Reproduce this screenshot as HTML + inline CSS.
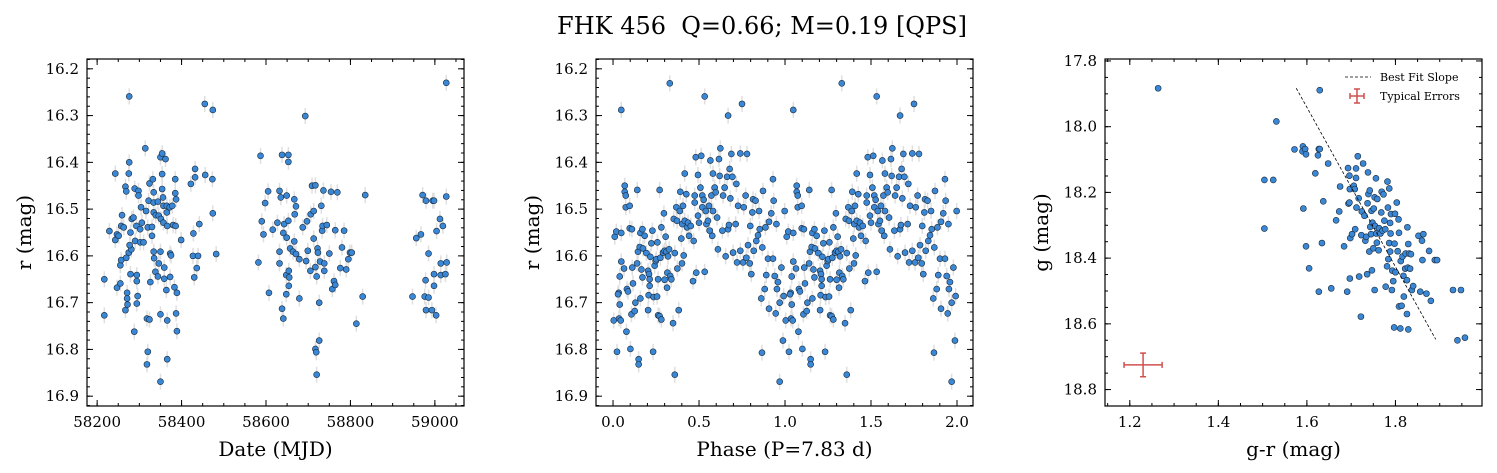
<!DOCTYPE html>
<html><head><meta charset="utf-8">
<style>
html,body{margin:0;padding:0;background:#fff;}
svg{display:block;font-family:"DejaVu Serif","Liberation Serif",serif;}
</style></head>
<body>
<svg id="fig" width="1497" height="473" viewBox="0 0 1497 473" xmlns="http://www.w3.org/2000/svg">
<text x="762" y="34" text-anchor="middle" font-size="24" fill="#000" xml:space="preserve" style="white-space:pre">FHK 456  Q=0.66; M=0.19 [QPS]</text>
</svg>
<script>
// Panel 1: light curve
const dates = [58217,58217,58229,58243,58243,58247,58251,58257,58259,58263,58255,58257,58247,58255,58269,58275,58276,58276,58275,58267,58269,58279,58281,58277,58282,58286,58279,58271,58271,58272,58267,58288,58289,58293,58290,58294,58294,58296,58294,58298,58298,58302,58304,58306,58302,58310,58314,58316,58318,58320,58318,58324,58320,58322,58324,58326,58330,58330,58332,58334,58334,58334,58334,58335,58338,58339,58344,58346,58344,58346,58350,58354,58354,58350,58350,58350,58351,58354,58356,58357,58357,58359,58359,58362,58364,58365,58365,58366,58366,58366,58372,58373,58373,58375,58378,58380,58383,58385,58385,58386,58387,58387,58389,58389,58399,58422,58427,58428,58430,58432,58432,58436,58439,58442,58455,58456,58473,58474,58474,58482,58582,58587,58590,58594,58598,58605,58607,58616,58627,58632,58632,58632,58635,58638,58638,58641,58641,58643,58648,58649,58649,58648,58653,58653,58653,58654,58654,58655,58657,58664,58667,58667,58668,58671,58671,58679,58679,58687,58693,58695,58697,58699,58705,58706,58709,58713,58713,58717,58717,58717,58719,58720,58720,58722,58723,58726,58726,58728,58731,58733,58734,58738,58738,58736,58744,58750,58754,58757,58761,58764,58764,58769,58776,58780,58785,58790,58795,58799,58803,58814,58829,58835,58947,58956,58967,58971,58978,58976,58979,58979,58985,58985,58993,58995,58998,58998,58998,59003,59004,59012,59014,59014,59019,59025,59027,59027,59028];
const mags1 = [16.65,16.727,16.547,16.424,16.566,16.554,16.557,16.536,16.513,16.539,16.62,16.609,16.668,16.659,16.604,16.593,16.259,16.4,16.424,16.452,16.462,16.55,16.586,16.577,16.521,16.518,16.639,16.679,16.691,16.704,16.716,16.762,16.456,16.536,16.568,16.641,16.654,16.686,16.702,16.461,16.471,16.543,16.496,16.529,16.571,16.571,16.37,16.504,16.734,16.805,16.832,16.736,16.539,16.482,16.445,16.656,16.538,16.557,16.436,16.464,16.486,16.507,16.591,16.605,16.634,16.513,16.484,16.616,16.644,16.514,16.389,16.381,16.425,16.591,16.725,16.869,16.521,16.457,16.475,16.493,16.529,16.625,16.649,16.393,16.673,16.493,16.507,16.536,16.738,16.821,16.496,16.595,16.645,16.599,16.493,16.534,16.667,16.436,16.466,16.536,16.479,16.723,16.679,16.761,16.566,16.446,16.6,16.552,16.646,16.414,16.432,16.626,16.6,16.532,16.275,16.427,16.436,16.288,16.509,16.596,16.614,16.386,16.526,16.554,16.487,16.462,16.679,16.544,16.529,16.461,16.591,16.616,16.475,16.384,16.713,16.551,16.734,16.532,16.682,16.471,16.561,16.641,16.384,16.399,16.525,16.632,16.664,16.646,16.584,16.591,16.479,16.569,16.511,16.596,16.494,16.607,16.691,16.539,16.301,16.611,16.526,16.589,16.632,16.511,16.45,16.504,16.563,16.449,16.624,16.799,16.806,16.854,16.644,16.584,16.593,16.7,16.781,16.612,16.493,16.546,16.536,16.632,16.616,16.46,16.534,16.595,16.463,16.671,16.654,16.662,16.545,16.464,16.626,16.582,16.546,16.629,16.607,16.593,16.593,16.745,16.687,16.47,16.687,16.562,16.554,16.47,16.652,16.687,16.482,16.716,16.689,16.595,16.716,16.482,16.482,16.664,16.639,16.727,16.547,16.521,16.641,16.616,16.536,16.639,16.23,16.473,16.614];
// Panel 2: phased light curve (phase 0-1, drawn twice)
const phases = [0.004,0.01,0.019,0.023,0.033,0.029,0.039,0.039,0.035,0.048,0.048,0.048,0.045,0.064,0.068,0.068,0.074,0.074,0.078,0.081,0.087,0.097,0.097,0.101,0.107,0.11,0.112,0.116,0.126,0.13,0.14,0.141,0.145,0.149,0.149,0.155,0.159,0.159,0.165,0.171,0.171,0.174,0.184,0.194,0.204,0.207,0.204,0.209,0.213,0.213,0.217,0.223,0.229,0.233,0.236,0.242,0.248,0.252,0.256,0.258,0.262,0.262,0.271,0.271,0.275,0.281,0.281,0.291,0.296,0.3,0.3,0.306,0.31,0.314,0.316,0.32,0.326,0.33,0.333,0.339,0.349,0.353,0.359,0.359,0.368,0.372,0.374,0.382,0.388,0.391,0.397,0.401,0.403,0.407,0.411,0.417,0.417,0.426,0.43,0.436,0.442,0.452,0.465,0.469,0.475,0.475,0.481,0.484,0.494,0.494,0.5,0.508,0.513,0.519,0.519,0.527,0.533,0.533,0.539,0.543,0.552,0.558,0.562,0.566,0.572,0.577,0.581,0.581,0.591,0.597,0.605,0.61,0.616,0.62,0.624,0.636,0.64,0.649,0.655,0.663,0.669,0.669,0.674,0.678,0.682,0.688,0.694,0.698,0.713,0.717,0.721,0.727,0.74,0.74,0.75,0.756,0.76,0.771,0.775,0.779,0.785,0.795,0.798,0.804,0.81,0.814,0.818,0.829,0.833,0.843,0.849,0.853,0.862,0.866,0.868,0.872,0.882,0.886,0.891,0.901,0.907,0.907,0.92,0.93,0.93,0.934,0.94,0.946,0.95,0.953,0.959,0.969,0.969,0.979,0.988,0.992,0.998];
const mags2 = [16.738,16.559,16.548,16.805,16.679,16.682,16.704,16.644,16.734,16.288,16.551,16.612,16.738,16.627,16.45,16.463,16.471,16.496,16.762,16.671,16.676,16.493,16.541,16.799,16.725,16.543,16.625,16.659,16.718,16.7,16.616,16.459,16.591,16.821,16.832,16.581,16.551,16.691,16.629,16.646,16.543,16.584,16.557,16.594,16.632,16.684,16.716,16.639,16.65,16.664,16.602,16.573,16.546,16.805,16.688,16.621,16.611,16.607,16.687,16.571,16.65,16.727,16.459,16.729,16.604,16.736,16.539,16.593,16.509,16.651,16.589,16.559,16.591,16.668,16.636,16.601,16.586,16.231,16.643,16.65,16.744,16.521,16.854,16.594,16.496,16.525,16.627,16.716,16.504,16.463,16.563,16.616,16.532,16.493,16.599,16.424,16.525,16.468,16.539,16.529,16.557,16.536,16.654,16.568,16.471,16.486,16.389,16.636,16.427,16.514,16.529,16.454,16.386,16.471,16.496,16.48,16.259,16.634,16.504,16.532,16.525,16.493,16.546,16.396,16.471,16.557,16.424,16.504,16.454,16.464,16.518,16.586,16.393,16.429,16.37,16.546,16.471,16.454,16.601,16.431,16.3,16.543,16.534,16.414,16.477,16.382,16.431,16.593,16.532,16.446,16.614,16.493,16.381,16.589,16.275,16.614,16.496,16.471,16.604,16.382,16.577,16.616,16.536,16.639,16.507,16.479,16.589,16.482,16.568,16.556,16.504,16.543,16.691,16.807,16.582,16.461,16.671,16.539,16.641,16.606,16.527,16.713,16.509,16.436,16.606,16.482,16.643,16.723,16.532,16.671,16.656,16.869,16.7,16.625,16.781,16.686,16.504];
// Panel 3: colour-magnitude
const colors = [1.264,1.629,1.531,1.572,1.591,1.59,1.596,1.598,1.625,1.627,1.629,1.648,1.619,1.504,1.524,1.592,1.637,1.504,1.598,1.605,1.634,1.627,1.655,1.691,1.675,1.673,1.666,1.684,1.693,1.696,1.697,1.694,1.696,1.698,1.702,1.697,1.706,1.708,1.709,1.711,1.711,1.712,1.715,1.717,1.718,1.722,1.723,1.724,1.727,1.73,1.732,1.734,1.736,1.737,1.738,1.739,1.741,1.742,1.743,1.745,1.746,1.747,1.748,1.75,1.751,1.753,1.753,1.754,1.756,1.757,1.758,1.759,1.762,1.763,1.766,1.768,1.769,1.771,1.773,1.775,1.777,1.778,1.781,1.782,1.783,1.784,1.786,1.786,1.788,1.788,1.789,1.79,1.792,1.793,1.795,1.797,1.798,1.799,1.8,1.803,1.805,1.807,1.808,1.808,1.811,1.812,1.814,1.816,1.818,1.819,1.822,1.823,1.826,1.826,1.827,1.828,1.829,1.829,1.831,1.833,1.835,1.837,1.84,1.852,1.856,1.86,1.861,1.863,1.87,1.876,1.88,1.889,1.894,1.93,1.948,1.94,1.957];
const gmags = [17.883,17.889,17.984,18.069,18.06,18.075,18.068,18.084,18.087,18.068,18.068,18.112,18.142,18.162,18.162,18.249,18.227,18.31,18.364,18.431,18.354,18.502,18.492,18.502,18.182,18.258,18.285,18.364,18.126,18.149,18.19,18.234,18.231,18.339,18.327,18.462,18.18,18.19,18.312,18.127,18.156,18.246,18.09,18.218,18.456,18.578,18.33,18.258,18.112,18.271,18.347,18.335,18.449,18.233,18.139,18.205,18.38,18.194,18.305,18.327,18.256,18.437,18.292,18.37,18.249,18.215,18.497,18.302,18.157,18.325,18.353,18.22,18.376,18.309,18.325,18.261,18.198,18.316,18.206,18.286,18.312,18.487,18.425,18.167,18.246,18.403,18.188,18.354,18.293,18.38,18.325,18.266,18.497,18.438,18.47,18.611,18.356,18.265,18.443,18.231,18.379,18.282,18.547,18.323,18.614,18.409,18.545,18.395,18.454,18.517,18.432,18.386,18.467,18.57,18.306,18.429,18.617,18.357,18.386,18.432,18.388,18.497,18.485,18.332,18.502,18.347,18.406,18.327,18.508,18.378,18.53,18.406,18.406,18.497,18.497,18.65,18.642];
const fitX = [1.576,1.891];
const fitY = [17.883,18.647];
const errPoint = [1.23,18.725];
const errSize = [0.043,0.036];
const ticks1x = [58200,58400,58600,58800,59000];
const ticksRy = [16.2,16.3,16.4,16.5,16.6,16.7,16.8,16.9];
const ticks2x = [0.0,0.5,1.0,1.5,2.0];
const ticks3x = [1.2,1.4,1.6,1.8];
const ticks3y = [17.8,18.0,18.2,18.4,18.6,18.8];

const NS='http://www.w3.org/2000/svg';
const svg=document.getElementById('fig');
function mk(tag,attrs,parent){const e=document.createElementNS(NS,tag);for(const k in attrs)e.setAttribute(k,attrs[k]);(parent||svg).appendChild(e);return e;}

function panel(o){
  const g=mk('g',{});
  
  
  const sx=v=>o.x0+(v-o.xmin)/(o.xmax-o.xmin)*(o.x1-o.x0);
  const sy=v=>o.y0+(v-o.ymin)/(o.ymax-o.ymin)*(o.y1-o.y0);
  o.sx=sx;o.sy=sy;
  o.g=g;
  const tg=mk('g',{stroke:'#000','stroke-width':1},g);
  function xt(v,len){const x=sx(v);mk('line',{x1:x,x2:x,y1:o.y1,y2:o.y1-len},tg);mk('line',{x1:x,x2:x,y1:o.y0,y2:o.y0+len},tg);}
  function yt(v,len){const y=sy(v);mk('line',{x1:o.x0,x2:o.x0+len,y1:y,y2:y},tg);mk('line',{x1:o.x1,x2:o.x1-len,y1:y,y2:y},tg);}
  const eps=1e-9;
  for(let v=Math.ceil(o.xmin/o.xminor)*o.xminor; v<=o.xmax+eps; v+=o.xminor) xt(v,3);
  for(let v=Math.ceil(o.ymin/o.yminor)*o.yminor; v<=o.ymax+eps; v+=o.yminor) yt(v,3);
  o.xt.forEach(v=>{xt(v,6);
    const t=mk('text',{x:sx(v),y:o.y1+21,'text-anchor':'middle','font-size':15},g);t.textContent=o.xfmt(v);
    
    
  });
  o.yt.forEach(v=>{yt(v,6);
    const t=mk('text',{x:o.x0-8,y:sy(v)+5,'text-anchor':'end','font-size':15},g);t.textContent=v.toFixed(1);
    
    
  });
  const xl=mk('text',{x:(o.x0+o.x1)/2,y:456,'text-anchor':'middle','font-size':20},g);xl.textContent=o.xlabel;
  
  
  const yl=mk('text',{x:0,y:0,'text-anchor':'middle','font-size':20,transform:`translate(${o.ylx},${(o.y0+o.y1)/2}) rotate(-90)`},g);yl.textContent=o.ylabel;
  
  
  return o;
}
function frame(o){const r=mk('rect',{x:o.x0,y:o.y0,width:o.x1-o.x0,height:o.y1-o.y0,fill:'none',stroke:'#000','stroke-width':1.2},o.g);
  
  }
function pts(o,xs,ys,err,name){
  const eg=mk('g',{stroke:'#d8d8d8','stroke-width':1.5,opacity:0.8},o.g);
  const pg=mk('g',{fill:'#3a87d6',stroke:'#1a2a3a','stroke-width':0.6},o.g);
  
  
  xs.forEach((xv,i)=>{const x=o.sx(xv),y=o.sy(ys[i]);
    if(err){mk('line',{x1:x,x2:x,y1:y-8,y2:y+8},eg);}
    const c=mk('circle',{cx:x,cy:y,r:3},pg);
    
    
  });
}

const p1=panel({name:'light-curve-panel',x0:87,x1:464,y0:59,y1:406,xmin:58176,xmax:59069,ymin:16.179,ymax:16.921,xminor:50,yminor:0.02,xt:ticks1x,yt:ticksRy,xfmt:v=>String(v),xlabel:'Date (MJD)',ylabel:'r (mag)',ylx:31});
pts(p1,dates,mags1,true,'light-curve-points');frame(p1);

const p2=panel({name:'phased-curve-panel',x0:596,x1:973,y0:59,y1:406,xmin:-0.099,xmax:2.093,ymin:16.179,ymax:16.921,xminor:0.1,yminor:0.02,xt:ticks2x,yt:ticksRy,xfmt:v=>v.toFixed(1),xlabel:'Phase (P=7.83 d)',ylabel:'r (mag)',ylx:539});
pts(p2,phases.concat(phases.map(p=>p+1)),mags2.concat(mags2),true,'phased-points');frame(p2);

const p3=panel({name:'color-magnitude-panel',x0:1105,x1:1482,y0:59,y1:406,xmin:1.144,xmax:1.9955,ymin:17.794,ymax:18.85,xminor:0.05,yminor:0.05,xt:ticks3x,yt:ticks3y,xfmt:v=>v.toFixed(1),xlabel:'g-r (mag)',ylabel:'g (mag)',ylx:1048});
pts(p3,colors,gmags,false,'color-magnitude-points');
const fl=mk('line',{x1:p3.sx(fitX[0]),y1:p3.sy(fitY[0]),x2:p3.sx(fitX[1]),y2:p3.sy(fitY[1]),stroke:'#000','stroke-width':0.8,'stroke-dasharray':'3,2'},p3.g);


const eg=mk('g',{stroke:'#d0504e','stroke-width':1.5},p3.g);


{const cx=p3.sx(errPoint[0]),cy=p3.sy(errPoint[1]);
 const hx=p3.sx(errPoint[0]+errSize[0])-cx, hy=p3.sy(errPoint[1]+errSize[1])-cy;
 mk('line',{x1:cx-hx,x2:cx+hx,y1:cy,y2:cy},eg);mk('line',{x1:cx,x2:cx,y1:cy-hy,y2:cy+hy},eg);
 mk('line',{x1:cx-hx,x2:cx-hx,y1:cy-3,y2:cy+3},eg);mk('line',{x1:cx+hx,x2:cx+hx,y1:cy-3,y2:cy+3},eg);
 mk('line',{x1:cx-3,x2:cx+3,y1:cy-hy,y2:cy-hy},eg);mk('line',{x1:cx-3,x2:cx+3,y1:cy+hy,y2:cy+hy},eg);}
frame(p3);
const lg=mk('g',{});


mk('line',{x1:1345,x2:1371,y1:77,y2:77,stroke:'#000','stroke-width':0.8,'stroke-dasharray':'3,2'},lg);
const t1=mk('text',{x:1380,y:81,'font-size':11},lg);t1.textContent='Best Fit Slope';


const rg=mk('g',{stroke:'#d0504e','stroke-width':1.5},lg);
mk('line',{x1:1350,x2:1364,y1:96,y2:96},rg);mk('line',{x1:1357,x2:1357,y1:89,y2:103},rg);
mk('line',{x1:1350,x2:1350,y1:93,y2:99},rg);mk('line',{x1:1364,x2:1364,y1:93,y2:99},rg);
mk('line',{x1:1354,x2:1360,y1:89,y2:89},rg);mk('line',{x1:1354,x2:1360,y1:103,y2:103},rg);
const t2=mk('text',{x:1380,y:100,'font-size':11},lg);t2.textContent='Typical Errors';


</script>
</body></html>
